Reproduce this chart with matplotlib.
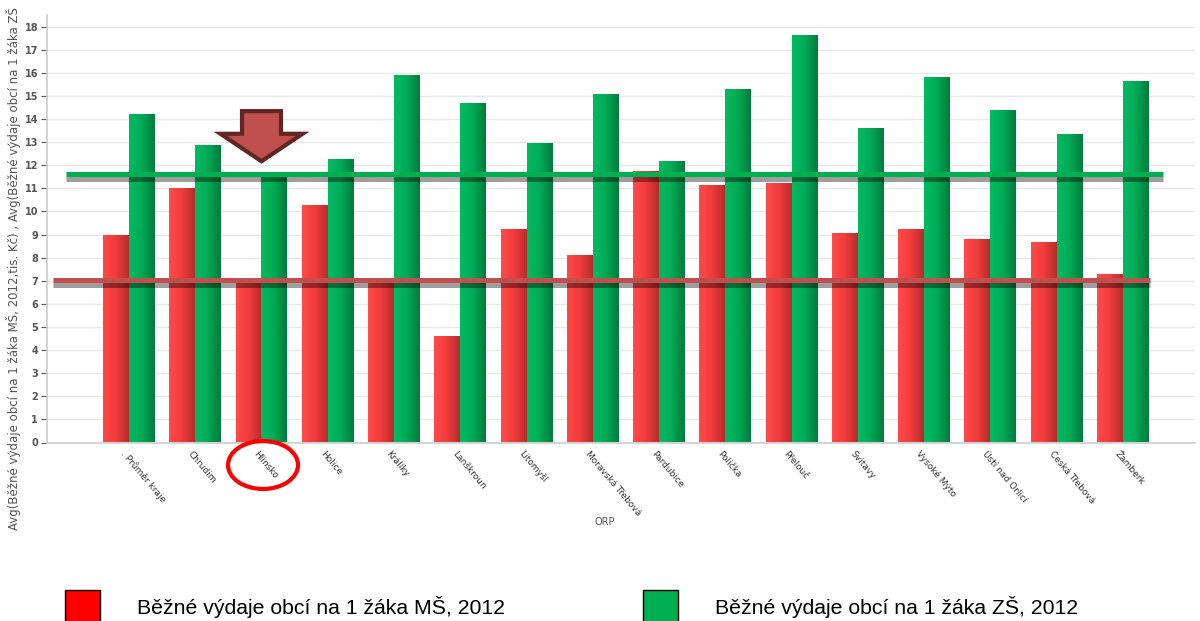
import numpy as np
import matplotlib
matplotlib.use("Agg")
import matplotlib.pyplot as plt
from matplotlib.colors import LinearSegmentedColormap
from matplotlib.patches import Ellipse, Polygon, Rectangle
from matplotlib.transforms import ScaledTranslation

# ---- data ----
orp = [". Průměr kraje", "Chrudim", "Hlinsko", "Holice", "Králíky", "Lanškroun",
       "Litomyšl", "Moravská Třebová", "Pardubice", "Polička", "Přelouč",
       "Svitavy", "Vysoké Mýto", "Ústí nad Orlicí", "Česká Třebová", "Žamberk"]
ms_2012 = [8.96, 11.02, 7.0, 10.26, 7.0, 4.6, 9.25, 8.13, 11.74, 11.16, 11.21,
           9.07, 9.22, 8.79, 8.67, 7.31]
zs_2012 = [14.22, 12.89, 11.6, 12.27, 15.92, 14.7, 12.94, 15.1, 12.17, 15.3,
           17.65, 13.62, 15.82, 14.38, 13.34, 15.65]
avg_ms = 7.04
avg_zs = 11.6

MS_LABEL = "Běžné výdaje obcí na 1 žáka MŠ, 2012"
ZS_LABEL = "Běžné výdaje obcí na 1 žáka ZŠ, 2012"
# the axis title is cut at the top edge in the source, only this part shows
YLABEL = ("Avg(Běžné výdaje obcí na 1 žáka MŠ, 2012,tis. Kč) , "
          "Avg(Běžné výdaje obcí na 1 žáka ZŠ")

RED_CM = LinearSegmentedColormap.from_list("r", ["#ff4a4a", "#f03c3c", "#b82c2c"])
GREEN_CM = LinearSegmentedColormap.from_list("g", ["#00bb62", "#00a955", "#007c3c"])
GRAD = np.linspace(0, 1, 64).reshape(1, -1)

W, H = 1200, 621
fig = plt.figure(figsize=(W / 100, H / 100), dpi=100)
fig.patch.set_facecolor("white")
ax = fig.add_axes([46.5 / W, 1 - 442.5 / H, (1195 - 46.5) / W, (442.5 - 15) / H])

x = np.arange(len(orp))
bw = 0.392


def grad_bars(xs, vals, cmap):
    bars = ax.bar(xs, vals, width=bw, align="edge", color="none", linewidth=0, zorder=3)
    for b in bars:
        x0, y0 = b.get_x(), b.get_y()
        im = ax.imshow(GRAD, cmap=cmap, aspect="auto", zorder=3,
                       extent=(x0, x0 + b.get_width(), y0, y0 + b.get_height()))
        im.set_clip_path(b)


grad_bars(x - bw, ms_2012, RED_CM)
grad_bars(x, zs_2012, GREEN_CM)

ax.set_xlim(-1.245, 16.09)
ax.set_ylim(0, 18.5)
ax.set_yticks(range(0, 19))
ax.tick_params(axis="y", labelsize=7, colors="#555555", length=4, width=0.8, pad=2)
for t in ax.get_yticklabels():
    t.set_fontweight("bold")
ax.grid(axis="y", color="#e8e8e8", linewidth=1, zorder=0)
ax.set_axisbelow(True)
for s in ["top", "right"]:
    ax.spines[s].set_visible(False)
for s in ["left", "bottom"]:
    ax.spines[s].set_color("#cccccc")
    ax.spines[s].set_linewidth(1.2)

ax.set_xticks(x)
ax.set_xticklabels(orp, rotation=-50, ha="left", va="center", rotation_mode="anchor",
                   fontsize=6.5, color="#333333")
ax.tick_params(axis="x", length=0, pad=7)
shift = ScaledTranslation(-6 / 100, 0, fig.dpi_scale_trans)
for t in ax.get_xticklabels():
    t.set_transform(t.get_transform() + shift)

# average lines with drop shadow
dy = 5 / 23.07
ax.plot([-0.95, 15.6], [avg_zs - dy, avg_zs - dy], color="black", alpha=0.38, lw=3.6,
        solid_capstyle="butt", zorder=4)
ax.plot([-0.95, 15.6], [avg_zs, avg_zs], color="#00b050", lw=3.6, solid_capstyle="butt", zorder=5)
ax.plot([-1.147, 15.41], [avg_ms - dy, avg_ms - dy], color="black", alpha=0.38, lw=3.6,
        solid_capstyle="butt", zorder=4)
ax.plot([-1.147, 15.41], [avg_ms, avg_ms], color="#c0504d", lw=3.6, solid_capstyle="butt", zorder=5)

# arrow pointing at Hlinsko
cx = x[2]
arrow_pts = [(cx - 0.294, 14.34), (cx + 0.294, 14.34), (cx + 0.294, 13.36),
             (cx + 0.62, 13.36), (cx, 12.17), (cx - 0.62, 13.36), (cx - 0.294, 13.36)]
ax.add_patch(Polygon(arrow_pts, closed=True, facecolor="#c0504d", edgecolor="#632523",
                     linewidth=3, joinstyle="miter", zorder=6))

# red ellipse around the Hlinsko label
fig.patches.append(Ellipse((263 / W, 1 - 465 / H), 70 / W, 48 / H, transform=fig.transFigure,
                           facecolor="none", edgecolor="#ff0000", linewidth=3))

fig.text(14 / W, 1 - 530 / H, YLABEL, rotation=90, ha="center", va="bottom",
         fontsize=8.5, color="#555555")
fig.text(605 / W, 1 - 522 / H, "ORP", ha="center", va="center", fontsize=7, color="#555555")

# legend below
for x0, col, lab in [(65, "#ff0000", MS_LABEL), (643, "#00b050", ZS_LABEL)]:
    fig.patches.append(Rectangle((x0 / W, -0.02), 35 / W, (621 - 590) / H + 0.02,
                                 transform=fig.transFigure, facecolor=col,
                                 edgecolor="black", linewidth=1))
    fig.text((x0 + 72) / W, 1 - 607 / H, lab, ha="left", va="center", fontsize=15.3,
             family="Liberation Sans", color="black")

fig.savefig("out.png", dpi=100, facecolor="white")
